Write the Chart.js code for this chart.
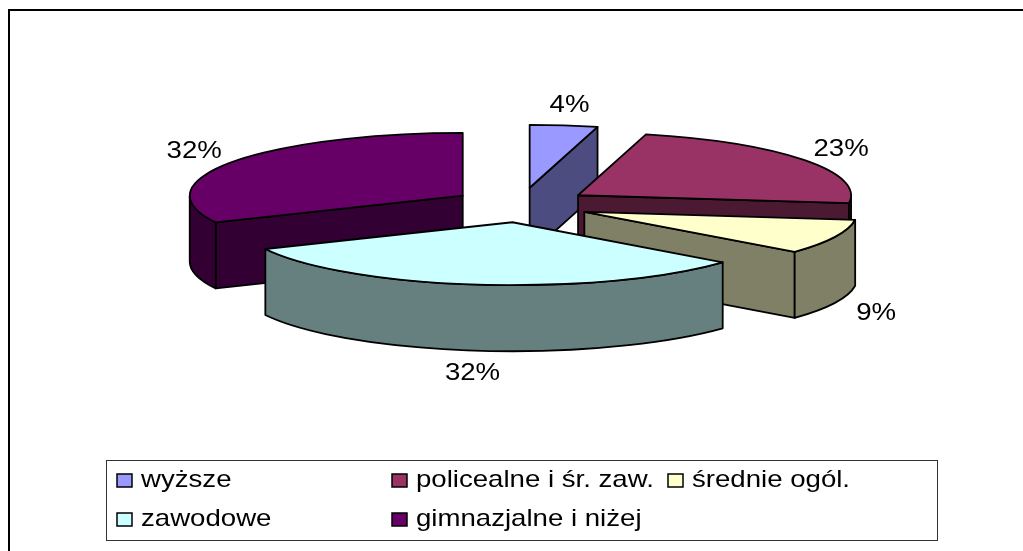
<!DOCTYPE html>
<html>
<head>
<meta charset="utf-8">
<title>Wykształcenie</title>
<script src="https://cdn.jsdelivr.net/npm/chart.js@4/dist/chart.umd.min.js"></script>
<style>
    html, body { margin: 0; padding: 0; background: #fff; overflow: hidden; }
    canvas { display: block; }
</style>
</head>
<body>
<canvas id="pieChart" width="1023" height="551"></canvas>
<script>
// === DATA ===
const categories = ["wyższe", "policealne i śr. zaw.", "średnie ogól.", "zawodowe", "gimnazjalne i niżej"];
const shares = [4, 23, 9, 32, 32];
const topColors = ["#9999FF", "#993366", "#FFFFCC", "#CCFFFF", "#660066"];
const wallColors = ["#4C4C80", "#4C1933", "#808066", "#668080", "#330033"];

// === LOOK OF THE PIE ===
const pieRadius = 273;
const sliceGap = 69;
const rimSquash = 0.23;
const gapSquash = 0.252;
const wallDepth = 66;
const FONT = '24px "Liberation Sans"';
const textStretch = 1.15; // the reference text is wider than it is tall

// === LEGEND LAYOUT ===
const legendBox = { left: 106.5, top: 460.5, right: 937.5, bottom: 540.5 };
const legendSwatchX = [117, 392, 668];
const legendRowBaseline = [487, 526];
const legendRows = [[0, 1, 2], [3, 4]];

function stretchedText(ctx, text, x, y, align) {
    ctx.save();
    ctx.translate(x, y);
    ctx.scale(textStretch, 1);
    ctx.font = FONT;
    ctx.fillStyle = "#000";
    ctx.textAlign = align;
    ctx.textBaseline = "alphabetic";
    ctx.fillText(text, 0, 0);
    ctx.restore();
}

// Geometry of one slice, taken from the arc element Chart.js laid out
function sliceShape(arc, index) {
    const p = arc.getProps(["x", "y", "startAngle", "endAngle", "outerRadius"], true);
    const mid = (p.startAngle + p.endAngle) / 2;
    const gap = arc.options.offset / 4;
    return {
        index,
        mid,
        start: p.startAngle,
        end: p.endAngle,
        cx: p.x + Math.cos(mid) * gap,
        cy: p.y + Math.sin(mid) * gap * gapSquash,
        rx: p.outerRadius,
        ry: p.outerRadius * rimSquash
    };
}

function drawFace(ctx, color, buildPath) {
    ctx.beginPath();
    buildPath();
    ctx.closePath();
    ctx.fillStyle = color;
    ctx.fill();
    ctx.stroke();
}

function drawRadialWall(ctx, s, angle, color) {
    const x = s.cx + Math.cos(angle) * s.rx;
    const y = s.cy + Math.sin(angle) * s.ry;
    drawFace(ctx, color, () => {
        ctx.moveTo(s.cx, s.cy);
        ctx.lineTo(x, y);
        ctx.lineTo(x, y + wallDepth);
        ctx.lineTo(s.cx, s.cy + wallDepth);
    });
}

function drawSlice(ctx, s) {
    const wall = wallColors[s.index];

    // side walls only when they face the viewer
    if (Math.cos(s.start) < -0.001) drawRadialWall(ctx, s, s.start, wall);
    if (Math.cos(s.end) > 0.001) drawRadialWall(ctx, s, s.end, wall);

    // curved outer wall, front half of the rim only
    const a = Math.max(s.start, 0);
    const b = Math.min(s.end, Math.PI);
    if (b > a) {
        drawFace(ctx, wall, () => {
            ctx.ellipse(s.cx, s.cy, s.rx, s.ry, 0, a, b);
            ctx.ellipse(s.cx, s.cy + wallDepth, s.rx, s.ry, 0, b, a, true);
        });
    }

    // top face
    drawFace(ctx, topColors[s.index], () => {
        ctx.moveTo(s.cx, s.cy);
        ctx.ellipse(s.cx, s.cy, s.rx, s.ry, 0, s.start, s.end);
    });
}

// === 3D PIE PLUGIN ===
const tiltedPie = {
    id: "tiltedPie",
    beforeDatasetDraw(chart, args) {
        const ctx = chart.ctx;
        const shapes = args.meta.data.map(sliceShape);
        shapes.sort((p, q) => Math.sin(p.mid) - Math.sin(q.mid));
        ctx.save();
        ctx.strokeStyle = "#000";
        ctx.lineWidth = 1.8;
        ctx.lineJoin = "round";
        shapes.forEach(s => drawSlice(ctx, s));
        ctx.restore();
        return false;
    },
    afterDraw(chart) {
        const ctx = chart.ctx;

        // frame: only top and left lines show in the picture
        ctx.fillStyle = "#000";
        ctx.fillRect(8, 9, 1015, 2);
        ctx.fillRect(8, 9, 2, 542);

        // percent labels
        chart.getDatasetMeta(0).data.forEach((arc, i) => {
            const s = sliceShape(arc, i);
            const x = s.cx + Math.cos(s.mid) * (s.rx + 45);
            let y = s.cy + Math.sin(s.mid) * (s.ry + 22);
            if (Math.sin(s.mid) > 0) y += wallDepth;
            stretchedText(ctx, shares[i] + "%", x, y + 8, "center");
        });

        // legend
        ctx.strokeStyle = "#333";
        ctx.lineWidth = 1;
        ctx.strokeRect(legendBox.left, legendBox.top,
            legendBox.right - legendBox.left, legendBox.bottom - legendBox.top);
        legendRows.forEach((row, r) => {
            row.forEach((item, c) => {
                const x = legendSwatchX[c];
                const base = legendRowBaseline[r];
                ctx.fillStyle = topColors[item];
                ctx.strokeStyle = "#000";
                ctx.lineWidth = 1.5;
                ctx.fillRect(x, base - 13, 15, 13);
                ctx.strokeRect(x, base - 13, 15, 13);
                stretchedText(ctx, categories[item], x + 24, base, "left");
            });
        });
    }
};

// === CHART ===
new Chart(document.getElementById("pieChart"), {
    type: "pie",
    data: {
        labels: categories,
        datasets: [{
            data: shares,
            backgroundColor: topColors,
            borderColor: "#000",
            offset: sliceGap * 4,
            radius: pieRadius
        }]
    },
    options: {
        responsive: false,
        animation: false,
        events: [],
        radius: pieRadius,
        layout: { padding: { left: 19, right: 0, top: 0, bottom: 141 } },
        plugins: {
            legend: { display: false },
            tooltip: { enabled: false },
            title: { display: false }
        }
    },
    plugins: [tiltedPie]
});
</script>
</body>
</html>
